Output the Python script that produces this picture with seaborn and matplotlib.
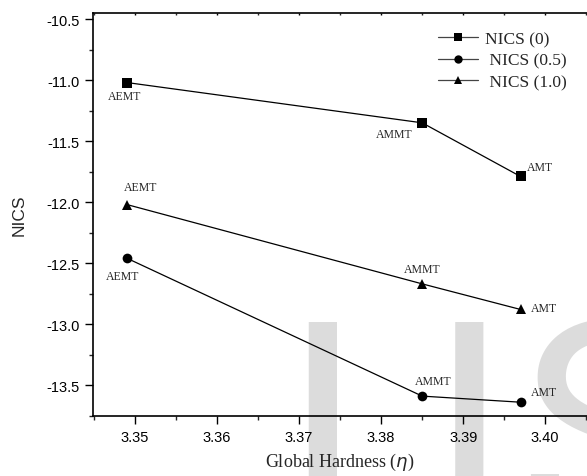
import matplotlib
matplotlib.use('Agg')
import matplotlib.pyplot as plt
import seaborn as sns
import pandas as pd
from matplotlib.ticker import MultipleLocator, FormatStrFormatter
from matplotlib.lines import Line2D
from matplotlib.textpath import TextPath
from matplotlib.font_manager import FontProperties

# data
molecules = ['AEMT', 'AMMT', 'AMT']
hardness = [3.349, 3.385, 3.397]
nics_0 = [-11.02, -11.35, -11.79]
nics_05 = [-12.46, -13.59, -13.64]
nics_10 = [-12.02, -12.67, -12.88]
series_names = ['NICS (0)', 'NICS (0.5)', 'NICS (1.0)']

rows = []
for name, vals in zip(series_names, [nics_0, nics_05, nics_10]):
    for m, h, v in zip(molecules, hardness, vals):
        rows.append({'series': name, 'molecule': m, 'hardness': h, 'nics': v})
df = pd.DataFrame(rows)

sns.set_style('ticks')
plt.rcParams['axes.unicode_minus'] = False
plt.rcParams['font.family'] = ['Liberation Sans', 'DejaVu Sans']

W, H = 587, 477
fig = plt.figure(figsize=(W / 100, H / 100), dpi=100)
ax = fig.add_axes([93.3 / W, 60 / H, 1 - 93.3 / W, 403 / H])
ax.patch.set_alpha(0)

# light grey watermark letters behind the axes, placed by their ink edges
wm_prop = FontProperties(family='Roboto')
wm = dict(fontsize=216, family='Roboto', color='#dcdcdc',
          va='baseline', ha='left', zorder=-5)
ext_i = TextPath((0, 0), 'I', size=300, prop=wm_prop).get_extents()
ext_j = TextPath((0, 0), 'J', size=300, prop=wm_prop).get_extents()
ext_s = TextPath((0, 0), 'S', size=300, prop=wm_prop).get_extents()
base_y = (H - (323 + ext_i.y1)) / H
fig.text((308 - ext_i.x0) / W, base_y, 'I', **wm)
fig.text((483 - ext_j.x1) / W, base_y, 'J', **wm)
fig.text((530 - ext_s.x0) / W, base_y, 'S', **wm)

markers = {'NICS (0)': 's', 'NICS (0.5)': 'o', 'NICS (1.0)': '^'}
sns.lineplot(data=df, x='hardness', y='nics', hue='series', style='series',
             markers=markers, dashes=False, palette=['black'] * 3,
             linewidth=0.9, markersize=7, markeredgewidth=0, legend=False, ax=ax)

# point labels (offsets in points)
offsets = {
    'NICS (0)': [(-2, -10), (-20, -8), (14, 7)],
    'NICS (0.5)': [(-3, -13), (8, 11), (17, 7)],
    'NICS (1.0)': [(10, 13), (0, 11), (17, 1)],
}
for name, vals in zip(series_names, [nics_0, nics_05, nics_10]):
    for (dx, dy), m, h, v in zip(offsets[name], molecules, hardness, vals):
        ax.annotate(m, (h, v), xytext=(dx, dy), textcoords='offset points',
                    ha='center', va='center', fontsize=8.5, family='Liberation Serif')

ax.set_xlim(3.3449, 3.4051)
ax.set_ylim(-13.753, -10.45)
ax.xaxis.set_major_locator(MultipleLocator(0.01))
ax.xaxis.set_minor_locator(MultipleLocator(0.005))
ax.yaxis.set_major_locator(MultipleLocator(0.5))
ax.yaxis.set_minor_locator(MultipleLocator(0.25))
ax.xaxis.set_major_formatter(FormatStrFormatter('%.2f'))
ax.yaxis.set_major_formatter(FormatStrFormatter('%.1f'))

ax.tick_params(axis='both', which='major', length=6, width=1, direction='out',
               labelsize=10.5, colors='black', pad=4)
ax.tick_params(axis='both', which='minor', length=3, width=1, direction='out')
ax.xaxis.set_tick_params(which='both', top=True)
for t in ax.xaxis.get_major_ticks() + ax.xaxis.get_minor_ticks():
    t.tick2line.set_marker(3)  # tiny tick pointing down into the axes
    t.tick2line.set_markersize(1.5)
ax.spines['right'].set_visible(False)
for s in ['left', 'bottom', 'top']:
    ax.spines[s].set_linewidth(1.2)
    ax.spines[s].set_color('black')

ax.set_xlabel('Global Hardness ($\\eta$)', family='Liberation Serif', fontsize=13,
              labelpad=5)
ax.set_ylabel('NICS', fontsize=12.5, labelpad=14)

handles = [Line2D([], [], color='#444444', lw=0.9, marker=markers[n], markersize=6,
                  markerfacecolor='black', markeredgewidth=0) for n in series_names]
ax.legend(handles, ['NICS (0)', ' NICS (0.5)', ' NICS (1.0)'], loc='upper left',
          bbox_to_anchor=(431 / W, 1 - 25 / H), bbox_transform=fig.transFigure,
          frameon=False, prop={'family': 'Liberation Serif', 'size': 12.5},
          handlelength=2.3, handletextpad=0.4, labelspacing=0.32, borderaxespad=0)

fig.savefig('out.png', dpi=100)
